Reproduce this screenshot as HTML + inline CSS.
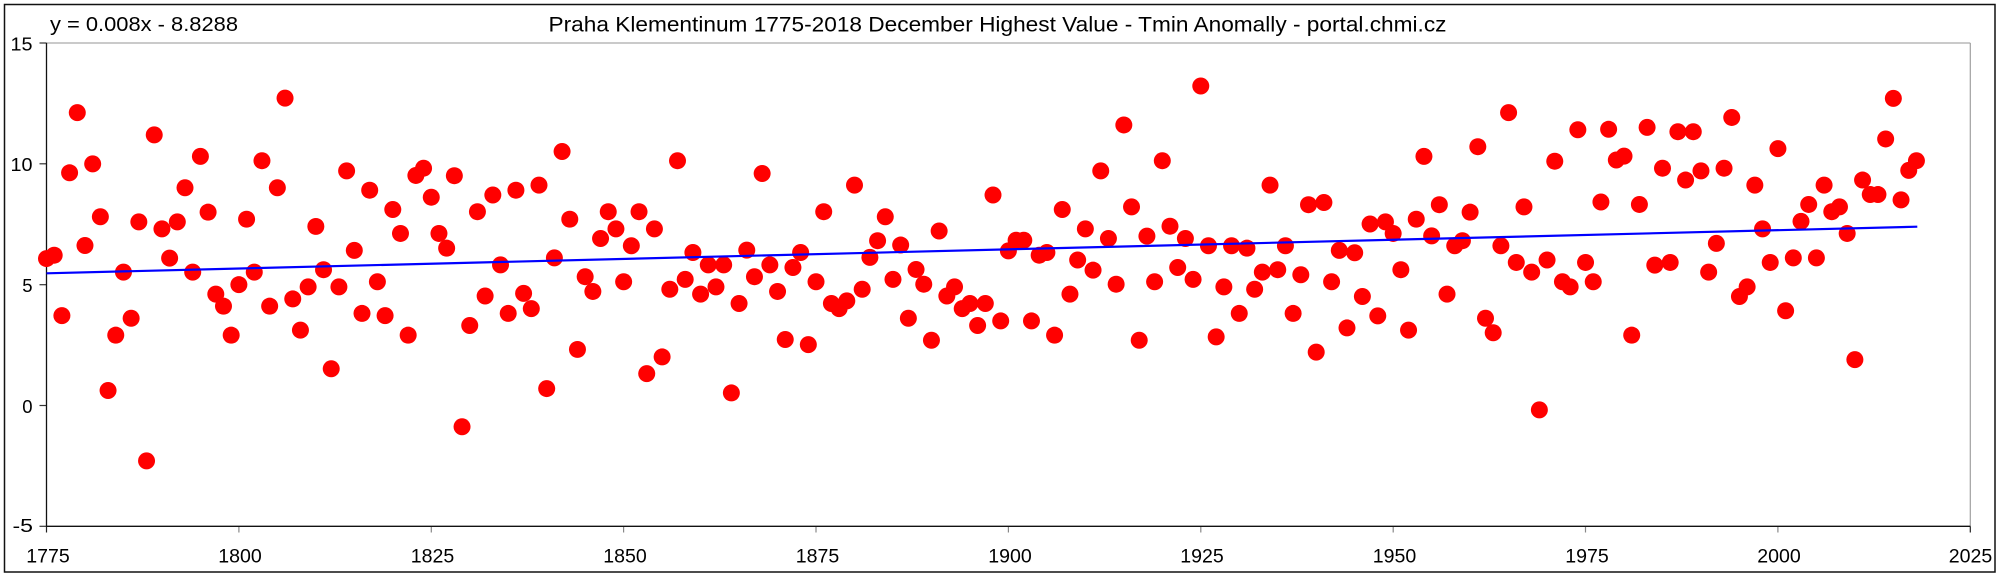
<!DOCTYPE html>
<html>
<head>
<meta charset="utf-8">
<style>
html,body{margin:0;padding:0;background:#fff;}
svg{display:block;}
text{font-family:"Liberation Sans",Arial,sans-serif;fill:#000;}
#pts ellipse{rx:1.1046px;ry:0.3517px;}
</style>
</head>
<body>
<svg width="2000" height="576" viewBox="0 0 2000 576" xmlns="http://www.w3.org/2000/svg">
<rect x="0" y="0" width="2000" height="576" fill="#fff"/>
<rect x="4.5" y="4.5" width="1990.5" height="567.5" fill="none" stroke="#111" stroke-width="1.5"/>

<text x="50" y="31" font-size="20.5" textLength="188" lengthAdjust="spacingAndGlyphs">y = 0.008x - 8.8288</text>
<text x="548.5" y="31.5" font-size="21" textLength="898" lengthAdjust="spacingAndGlyphs">Praha Klementinum 1775-2018 December Highest Value - Tmin Anomally - portal.chmi.cz</text>

<line x1="46.5" y1="43" x2="1970.3" y2="43" stroke="#b8b8b8" stroke-width="1.6"/>
<line x1="1970.3" y1="43" x2="1970.3" y2="526.3" stroke="#a0a0a0" stroke-width="1.2"/>

<g stroke="#333" stroke-width="1.2">
<line x1="39.5" y1="43" x2="46.5" y2="43"/>
<line x1="39.5" y1="163.8" x2="46.5" y2="163.8"/>
<line x1="39.5" y1="284.7" x2="46.5" y2="284.7"/>
<line x1="39.5" y1="405.5" x2="46.5" y2="405.5"/>
<line x1="39.5" y1="526.3" x2="46.5" y2="526.3"/>
</g>
<g stroke="#888" stroke-width="1.2">
<line x1="46.5" y1="526.3" x2="46.5" y2="532.5" stroke="#222"/>
<line x1="238.9" y1="526.3" x2="238.9" y2="532.5"/>
<line x1="431.3" y1="526.3" x2="431.3" y2="532.5"/>
<line x1="623.6" y1="526.3" x2="623.6" y2="532.5"/>
<line x1="816" y1="526.3" x2="816" y2="532.5"/>
<line x1="1008.4" y1="526.3" x2="1008.4" y2="532.5"/>
<line x1="1200.8" y1="526.3" x2="1200.8" y2="532.5"/>
<line x1="1393.2" y1="526.3" x2="1393.2" y2="532.5"/>
<line x1="1585.5" y1="526.3" x2="1585.5" y2="532.5"/>
<line x1="1777.9" y1="526.3" x2="1777.9" y2="532.5"/>
<line x1="1970.3" y1="526.3" x2="1970.3" y2="532.5" stroke="#222"/>
</g>

<line x1="46.5" y1="43" x2="46.5" y2="526.3" stroke="#111" stroke-width="1.3"/>
<line x1="46.5" y1="526.3" x2="1970.3" y2="526.3" stroke="#111" stroke-width="1.3"/>

<g font-size="18.5" text-anchor="end">
<text x="32.5" y="50.3" textLength="22" lengthAdjust="spacingAndGlyphs">15</text>
<text x="32.5" y="171" textLength="22" lengthAdjust="spacingAndGlyphs">10</text>
<text x="32.5" y="292">5</text>
<text x="32.5" y="412.8">0</text>
<text x="33" y="532" textLength="20.5" lengthAdjust="spacingAndGlyphs">-5</text>
</g>
<g font-size="19.5" text-anchor="middle">
<text x="48" y="562.7" textLength="43.5" lengthAdjust="spacingAndGlyphs">1775</text>
<text x="240" y="562.7" textLength="43.5" lengthAdjust="spacingAndGlyphs">1800</text>
<text x="432.5" y="562.7" textLength="43.5" lengthAdjust="spacingAndGlyphs">1825</text>
<text x="625" y="562.7" textLength="43.5" lengthAdjust="spacingAndGlyphs">1850</text>
<text x="817.5" y="562.7" textLength="43.5" lengthAdjust="spacingAndGlyphs">1875</text>
<text x="1010" y="562.7" textLength="43.5" lengthAdjust="spacingAndGlyphs">1900</text>
<text x="1202" y="562.7" textLength="43.5" lengthAdjust="spacingAndGlyphs">1925</text>
<text x="1394.5" y="562.7" textLength="43.5" lengthAdjust="spacingAndGlyphs">1950</text>
<text x="1587" y="562.7" textLength="43.5" lengthAdjust="spacingAndGlyphs">1975</text>
<text x="1779" y="562.7" textLength="43.5" lengthAdjust="spacingAndGlyphs">2000</text>
<text x="1970.5" y="562.7" textLength="43.5" lengthAdjust="spacingAndGlyphs">2025</text>
</g>

<g id="pts" fill="#ff0000" transform="translate(46.5 405.5) scale(7.6952 -24.165) translate(-1775 0)">
<ellipse cx="1775" cy="6.08"/><ellipse cx="1776" cy="6.22"/><ellipse cx="1777" cy="3.72"/><ellipse cx="1778" cy="9.63"/><ellipse cx="1779" cy="12.12"/>
<ellipse cx="1780" cy="6.62"/><ellipse cx="1781" cy="10.0"/><ellipse cx="1782" cy="7.81"/><ellipse cx="1783" cy="0.62"/><ellipse cx="1784" cy="2.91"/>
<ellipse cx="1785" cy="5.52"/><ellipse cx="1786" cy="3.61"/><ellipse cx="1787" cy="7.60"/><ellipse cx="1788" cy="-2.29"/><ellipse cx="1789" cy="11.20"/>
<ellipse cx="1790" cy="7.31"/><ellipse cx="1791" cy="6.10"/><ellipse cx="1792" cy="7.60"/><ellipse cx="1793" cy="9.01"/><ellipse cx="1794" cy="5.52"/>
<ellipse cx="1795" cy="10.31"/><ellipse cx="1796" cy="8.0"/><ellipse cx="1797" cy="4.61"/><ellipse cx="1798" cy="4.11"/><ellipse cx="1799" cy="2.91"/>
<ellipse cx="1800" cy="5.0"/><ellipse cx="1801" cy="7.71"/><ellipse cx="1802" cy="5.52"/><ellipse cx="1803" cy="10.13"/><ellipse cx="1804" cy="4.11"/>
<ellipse cx="1805" cy="9.01"/><ellipse cx="1806" cy="12.72"/><ellipse cx="1807" cy="4.41"/><ellipse cx="1808" cy="3.12"/><ellipse cx="1809" cy="4.91"/>
<ellipse cx="1810" cy="7.41"/><ellipse cx="1811" cy="5.62"/><ellipse cx="1812" cy="1.52"/><ellipse cx="1813" cy="4.91"/><ellipse cx="1814" cy="9.71"/>
<ellipse cx="1815" cy="6.42"/><ellipse cx="1816" cy="3.81"/><ellipse cx="1817" cy="8.91"/><ellipse cx="1818" cy="5.12"/><ellipse cx="1819" cy="3.72"/>
<ellipse cx="1820" cy="8.11"/><ellipse cx="1821" cy="7.12"/><ellipse cx="1822" cy="2.91"/><ellipse cx="1823" cy="9.52"/><ellipse cx="1824" cy="9.82"/>
<ellipse cx="1825" cy="8.62"/><ellipse cx="1826" cy="7.12"/><ellipse cx="1827" cy="6.51"/><ellipse cx="1828" cy="9.51"/><ellipse cx="1829" cy="-0.88"/>
<ellipse cx="1830" cy="3.31"/><ellipse cx="1831" cy="8.02"/><ellipse cx="1832" cy="4.53"/><ellipse cx="1833" cy="8.71"/><ellipse cx="1834" cy="5.82"/>
<ellipse cx="1835" cy="3.81"/><ellipse cx="1836" cy="8.91"/><ellipse cx="1837" cy="4.64"/><ellipse cx="1838" cy="4.01"/><ellipse cx="1839" cy="9.12"/>
<ellipse cx="1840" cy="0.70"/><ellipse cx="1841" cy="6.11"/><ellipse cx="1842" cy="10.51"/><ellipse cx="1843" cy="7.71"/><ellipse cx="1844" cy="2.32"/>
<ellipse cx="1845" cy="5.33"/><ellipse cx="1846" cy="4.72"/><ellipse cx="1847" cy="6.91"/><ellipse cx="1848" cy="8.02"/><ellipse cx="1849" cy="7.31"/>
<ellipse cx="1850" cy="5.12"/><ellipse cx="1851" cy="6.61"/><ellipse cx="1852" cy="8.02"/><ellipse cx="1853" cy="1.32"/><ellipse cx="1854" cy="7.31"/>
<ellipse cx="1855" cy="2.01"/><ellipse cx="1856" cy="4.81"/><ellipse cx="1857" cy="10.13"/><ellipse cx="1858" cy="5.22"/><ellipse cx="1859" cy="6.33"/>
<ellipse cx="1860" cy="4.61"/><ellipse cx="1861" cy="5.82"/><ellipse cx="1862" cy="4.91"/><ellipse cx="1863" cy="5.82"/><ellipse cx="1864" cy="0.52"/>
<ellipse cx="1865" cy="4.22"/><ellipse cx="1866" cy="6.43"/><ellipse cx="1867" cy="5.33"/><ellipse cx="1868" cy="9.60"/><ellipse cx="1869" cy="5.82"/>
<ellipse cx="1870" cy="4.72"/><ellipse cx="1871" cy="2.73"/><ellipse cx="1872" cy="5.71"/><ellipse cx="1873" cy="6.33"/><ellipse cx="1874" cy="2.52"/>
<ellipse cx="1875" cy="5.12"/><ellipse cx="1876" cy="8.02"/><ellipse cx="1877" cy="4.22"/><ellipse cx="1878" cy="4.01"/><ellipse cx="1879" cy="4.33"/>
<ellipse cx="1880" cy="9.12"/><ellipse cx="1881" cy="4.81"/><ellipse cx="1882" cy="6.13"/><ellipse cx="1883" cy="6.82"/><ellipse cx="1884" cy="7.81"/>
<ellipse cx="1885" cy="5.22"/><ellipse cx="1886" cy="6.64"/><ellipse cx="1887" cy="3.61"/><ellipse cx="1888" cy="5.63"/><ellipse cx="1889" cy="5.02"/>
<ellipse cx="1890" cy="2.70"/><ellipse cx="1891" cy="7.22"/><ellipse cx="1892" cy="4.53"/><ellipse cx="1893" cy="4.91"/><ellipse cx="1894" cy="4.01"/>
<ellipse cx="1895" cy="4.22"/><ellipse cx="1896" cy="3.31"/><ellipse cx="1897" cy="4.22"/><ellipse cx="1898" cy="8.71"/><ellipse cx="1899" cy="3.50"/>
<ellipse cx="1900" cy="6.40"/><ellipse cx="1901" cy="6.84"/><ellipse cx="1902" cy="6.84"/><ellipse cx="1903" cy="3.50"/><ellipse cx="1904" cy="6.22"/>
<ellipse cx="1905" cy="6.33"/><ellipse cx="1906" cy="2.91"/><ellipse cx="1907" cy="8.11"/><ellipse cx="1908" cy="4.61"/><ellipse cx="1909" cy="6.02"/>
<ellipse cx="1910" cy="7.31"/><ellipse cx="1911" cy="5.60"/><ellipse cx="1912" cy="9.71"/><ellipse cx="1913" cy="6.91"/><ellipse cx="1914" cy="5.02"/>
<ellipse cx="1915" cy="11.61"/><ellipse cx="1916" cy="8.22"/><ellipse cx="1917" cy="2.70"/><ellipse cx="1918" cy="7.01"/><ellipse cx="1919" cy="5.12"/>
<ellipse cx="1920" cy="10.13"/><ellipse cx="1921" cy="7.42"/><ellipse cx="1922" cy="5.71"/><ellipse cx="1923" cy="6.91"/><ellipse cx="1924" cy="5.22"/>
<ellipse cx="1925" cy="13.22"/><ellipse cx="1926" cy="6.61"/><ellipse cx="1927" cy="2.84"/><ellipse cx="1928" cy="4.91"/><ellipse cx="1929" cy="6.61"/>
<ellipse cx="1930" cy="3.81"/><ellipse cx="1931" cy="6.51"/><ellipse cx="1932" cy="4.81"/><ellipse cx="1933" cy="5.52"/><ellipse cx="1934" cy="9.12"/>
<ellipse cx="1935" cy="5.62"/><ellipse cx="1936" cy="6.61"/><ellipse cx="1937" cy="3.81"/><ellipse cx="1938" cy="5.41"/><ellipse cx="1939" cy="8.31"/>
<ellipse cx="1940" cy="2.21"/><ellipse cx="1941" cy="8.40"/><ellipse cx="1942" cy="5.12"/><ellipse cx="1943" cy="6.42"/><ellipse cx="1944" cy="3.21"/>
<ellipse cx="1945" cy="6.32"/><ellipse cx="1946" cy="4.51"/><ellipse cx="1947" cy="7.51"/><ellipse cx="1948" cy="3.71"/><ellipse cx="1949" cy="7.60"/>
<ellipse cx="1950" cy="7.12"/><ellipse cx="1951" cy="5.62"/><ellipse cx="1952" cy="3.12"/><ellipse cx="1953" cy="7.71"/><ellipse cx="1954" cy="10.31"/>
<ellipse cx="1955" cy="7.02"/><ellipse cx="1956" cy="8.31"/><ellipse cx="1957" cy="4.61"/><ellipse cx="1958" cy="6.61"/><ellipse cx="1959" cy="6.82"/>
<ellipse cx="1960" cy="8.0"/><ellipse cx="1961" cy="10.71"/><ellipse cx="1962" cy="3.61"/><ellipse cx="1963" cy="3.01"/><ellipse cx="1964" cy="6.61"/>
<ellipse cx="1965" cy="12.12"/><ellipse cx="1966" cy="5.92"/><ellipse cx="1967" cy="8.22"/><ellipse cx="1968" cy="5.52"/><ellipse cx="1969" cy="-0.18"/>
<ellipse cx="1970" cy="6.02"/><ellipse cx="1971" cy="10.11"/><ellipse cx="1972" cy="5.12"/><ellipse cx="1973" cy="4.91"/><ellipse cx="1974" cy="11.41"/>
<ellipse cx="1975" cy="5.92"/><ellipse cx="1976" cy="5.12"/><ellipse cx="1977" cy="8.42"/><ellipse cx="1978" cy="11.43"/><ellipse cx="1979" cy="10.16"/>
<ellipse cx="1980" cy="10.32"/><ellipse cx="1981" cy="2.91"/><ellipse cx="1982" cy="8.32"/><ellipse cx="1983" cy="11.51"/><ellipse cx="1984" cy="5.81"/>
<ellipse cx="1985" cy="9.82"/><ellipse cx="1986" cy="5.92"/><ellipse cx="1987" cy="11.33"/><ellipse cx="1988" cy="9.33"/><ellipse cx="1989" cy="11.33"/>
<ellipse cx="1990" cy="9.71"/><ellipse cx="1991" cy="5.52"/><ellipse cx="1992" cy="6.71"/><ellipse cx="1993" cy="9.82"/><ellipse cx="1994" cy="11.92"/>
<ellipse cx="1995" cy="4.51"/><ellipse cx="1996" cy="4.91"/><ellipse cx="1997" cy="9.12"/><ellipse cx="1998" cy="7.31"/><ellipse cx="1999" cy="5.92"/>
<ellipse cx="2000" cy="10.63"/><ellipse cx="2001" cy="3.92"/><ellipse cx="2002" cy="6.11"/><ellipse cx="2003" cy="7.62"/><ellipse cx="2004" cy="8.32"/>
<ellipse cx="2005" cy="6.11"/><ellipse cx="2006" cy="9.12"/><ellipse cx="2007" cy="8.02"/><ellipse cx="2008" cy="8.22"/><ellipse cx="2009" cy="7.12"/>
<ellipse cx="2010" cy="1.90"/><ellipse cx="2011" cy="9.33"/><ellipse cx="2012" cy="8.73"/><ellipse cx="2013" cy="8.73"/><ellipse cx="2014" cy="11.03"/>
<ellipse cx="2015" cy="12.71"/><ellipse cx="2016" cy="8.51"/><ellipse cx="2017" cy="9.73"/><ellipse cx="2018" cy="10.13"/>
</g>

<line x1="46.5" y1="273.3" x2="1917.3" y2="226.7" stroke="#0000ff" stroke-width="2.2"/>
</svg>
</body>
</html>
